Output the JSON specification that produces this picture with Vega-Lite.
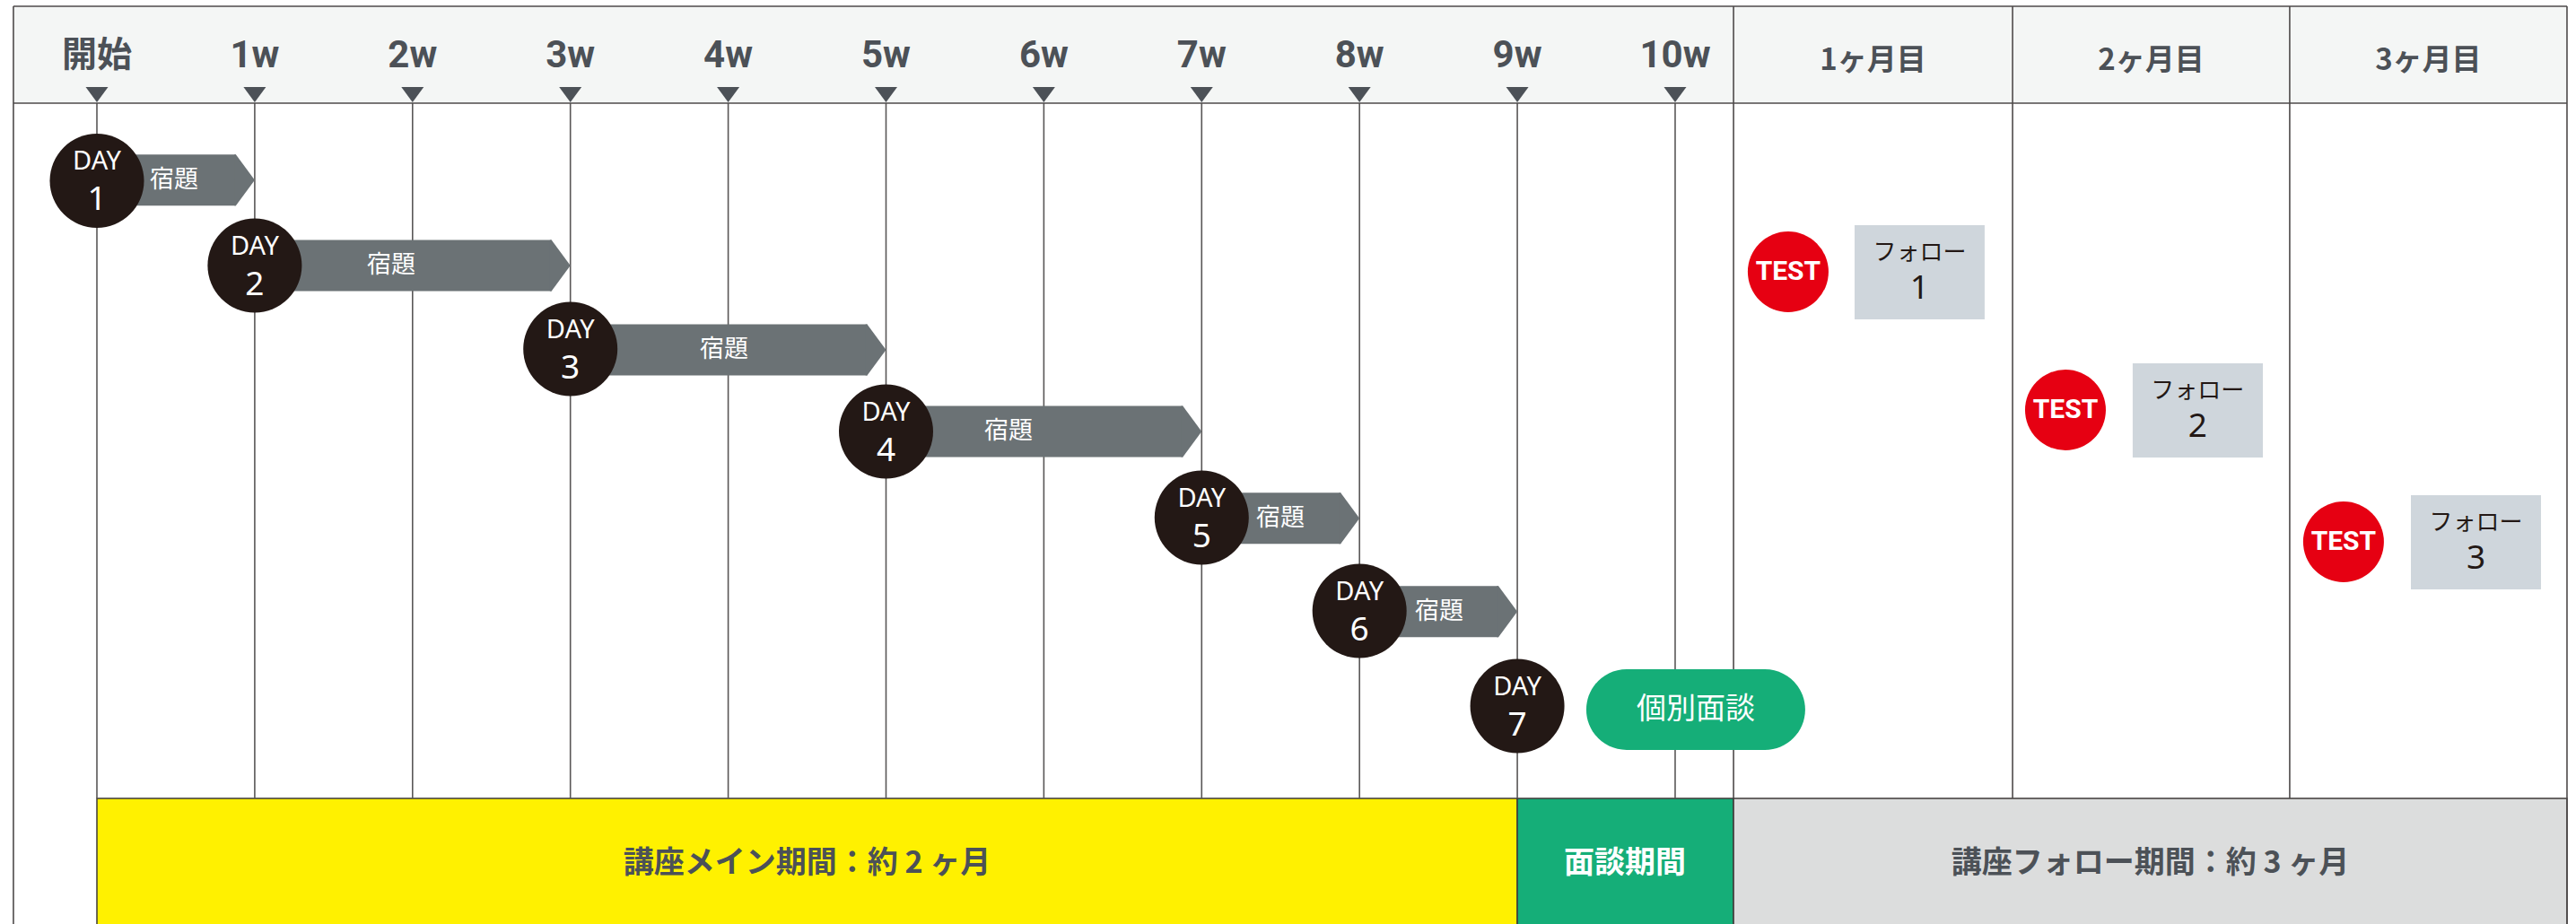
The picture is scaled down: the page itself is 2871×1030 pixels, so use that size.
{
  "$schema": "https://vega.github.io/schema/vega-lite/v6.json",
  "width": 2871,
  "height": 1030,
  "padding": 0,
  "autosize": {"type": "none"},
  "background": "#ffffff",
  "config": {"view": {"stroke": null}},
  "datasets": {
    "hdr": [{"x": -0.529, "x2": 15.651, "y": 0.68, "y2": 11.165}],
    "bands": [
      {"label": "講座メイン期間：約 2 ヶ月", "x": 0, "x2": 9, "xc": 4.5, "y": 86.408, "y2": 101, "c": "main"},
      {"label": "面談期間", "x": 9, "x2": 10.37, "xc": 9.682, "y": 86.408, "y2": 101, "c": "interview"},
      {"label": "講座フォロー期間：約 3 ヶ月", "x": 10.37, "x2": 15.651, "xc": 13.01, "y": 86.408, "y2": 101, "c": "follow"}
    ],
    "weeks": [
      {"x": 0, "label": "開始"}, {"x": 1, "label": "1w"}, {"x": 2, "label": "2w"}, {"x": 3, "label": "3w"},
      {"x": 4, "label": "4w"}, {"x": 5, "label": "5w"}, {"x": 6, "label": "6w"}, {"x": 7, "label": "7w"},
      {"x": 8, "label": "8w"}, {"x": 9, "label": "9w"}, {"x": 10, "label": "10w"}
    ],
    "vlines": [
      {"x": -0.529, "y": 0.68, "y2": 101},
      {"x": 10.37, "y": 0.68, "y2": 86.408},
      {"x": 12.138, "y": 0.68, "y2": 86.408},
      {"x": 13.894, "y": 0.68, "y2": 86.408},
      {"x": 15.651, "y": 0.68, "y2": 101}
    ],
    "hlines": [
      {"x": -0.529, "x2": 15.651, "y": 0.68},
      {"x": -0.529, "x2": 15.651, "y": 11.165}
    ],
    "months": [
      {"x": 11.254, "label": "1ヶ月目"},
      {"x": 13.016, "label": "2ヶ月目"},
      {"x": 14.772, "label": "3ヶ月目"}
    ],
    "hw": [
      {"x": 0, "x2": 1, "y": 19.5, "tx": 0.489},
      {"x": 1, "x2": 3, "y": 28.738, "tx": 1.865},
      {"x": 3, "x2": 5, "y": 37.864, "tx": 3.974},
      {"x": 5, "x2": 7, "y": 46.699, "tx": 5.776},
      {"x": 7, "x2": 8, "y": 56.1, "tx": 7.499},
      {"x": 8, "x2": 9, "y": 66.2, "tx": 8.505}
    ],
    "days": [
      {"day": "1", "x": 0, "y": 19.563},
      {"day": "2", "x": 1, "y": 28.738},
      {"day": "3", "x": 3, "y": 37.767},
      {"day": "4", "x": 5, "y": 46.699},
      {"day": "5", "x": 7, "y": 56.019},
      {"day": "6", "x": 8, "y": 66.117},
      {"day": "7", "x": 9, "y": 76.408}
    ],
    "pill": [{"label": "個別面談", "x": 9.437, "x2": 10.824, "xc": 10.131, "y": 72.427, "y2": 81.165, "yc": 76.796}],
    "tests": [
      {"x": 10.716, "y": 29.417},
      {"x": 12.473, "y": 44.369},
      {"x": 14.235, "y": 58.641}
    ],
    "follow": [
      {"n": "1", "x": 11.137, "x2": 11.961, "xc": 11.549, "y": 24.369, "y2": 34.563, "yc": 29.466},
      {"n": "2", "x": 12.899, "x2": 13.724, "xc": 13.311, "y": 39.32, "y2": 49.515, "yc": 44.417},
      {"n": "3", "x": 14.662, "x2": 15.486, "xc": 15.074, "y": 53.592, "y2": 63.786, "yc": 58.689}
    ]
  },
  "layer": [
    {
      "data": {"name": "hdr"},
      "mark": {"type": "rect", "fill": "#f4f6f5"},
      "encoding": {
        "x": {"field": "x", "type": "quantitative", "scale": {"domain": [-0.614, 15.708], "nice": false, "zero": false}, "axis": null},
        "x2": {"field": "x2"},
        "y": {"field": "y", "type": "quantitative", "scale": {"domain": [0, 100], "nice": false, "zero": false, "reverse": true}, "axis": null},
        "y2": {"field": "y2"}
      }
    },
    {
      "data": {"name": "bands"},
      "mark": {"type": "rect", "stroke": "#3e3a39", "strokeWidth": 1.5},
      "encoding": {
        "x": {"field": "x", "type": "quantitative", "scale": {"domain": [-0.614, 15.708], "nice": false, "zero": false}, "axis": null},
        "x2": {"field": "x2"},
        "y": {"field": "y", "type": "quantitative", "scale": {"domain": [0, 100], "nice": false, "zero": false, "reverse": true}, "axis": null},
        "y2": {"field": "y2"},
        "fill": {"field": "c", "type": "nominal", "scale": {"domain": ["main", "interview", "follow"], "range": ["#fff100", "#15ae78", "#dcdddd"]}, "legend": null}
      }
    },
    {
      "data": {"name": "weeks"},
      "mark": {"type": "rule", "color": "#595757", "strokeWidth": 1.6},
      "encoding": {
        "x": {"field": "x", "type": "quantitative", "scale": {"domain": [-0.614, 15.708], "nice": false, "zero": false}, "axis": null},
        "y": {"datum": 11.165, "type": "quantitative", "scale": {"domain": [0, 100], "nice": false, "zero": false, "reverse": true}, "axis": null},
        "y2": {"datum": 86.408}
      }
    },
    {
      "data": {"name": "vlines"},
      "mark": {"type": "rule", "color": "#4e4a4a", "strokeWidth": 1.6},
      "encoding": {
        "x": {"field": "x", "type": "quantitative", "scale": {"domain": [-0.614, 15.708], "nice": false, "zero": false}, "axis": null},
        "y": {"field": "y", "type": "quantitative", "scale": {"domain": [0, 100], "nice": false, "zero": false, "reverse": true}, "axis": null},
        "y2": {"field": "y2"}
      }
    },
    {
      "data": {"name": "hlines"},
      "mark": {"type": "rule", "color": "#4e4a4a", "strokeWidth": 1.6},
      "encoding": {
        "x": {"field": "x", "type": "quantitative", "scale": {"domain": [-0.614, 15.708], "nice": false, "zero": false}, "axis": null},
        "x2": {"field": "x2"},
        "y": {"field": "y", "type": "quantitative", "scale": {"domain": [0, 100], "nice": false, "zero": false, "reverse": true}, "axis": null}
      }
    },
    {
      "data": {"name": "weeks"},
      "mark": {"type": "point", "shape": "M-1,-0.68L1,-0.68L0,0.68Z", "size": 625, "filled": true, "fill": "#4c5157", "opacity": 1, "strokeWidth": 0},
      "encoding": {
        "x": {"field": "x", "type": "quantitative", "scale": {"domain": [-0.614, 15.708], "nice": false, "zero": false}, "axis": null},
        "y": {"datum": 10.243, "type": "quantitative", "scale": {"domain": [0, 100], "nice": false, "zero": false, "reverse": true}, "axis": null}
      }
    },
    {
      "data": {"name": "weeks"},
      "transform": [{"filter": "datum.x > 0"}],
      "mark": {"type": "text", "font": "Roboto", "fontWeight": "bold", "fontSize": 42, "fill": "#4c5157", "align": "center", "baseline": "middle"},
      "encoding": {
        "x": {"field": "x", "type": "quantitative", "scale": {"domain": [-0.614, 15.708], "nice": false, "zero": false}, "axis": null},
        "y": {"datum": 6.019, "type": "quantitative", "scale": {"domain": [0, 100], "nice": false, "zero": false, "reverse": true}, "axis": null},
        "text": {"field": "label"}
      }
    },
    {
      "data": {"name": "weeks"},
      "transform": [{"filter": "datum.x == 0"}],
      "mark": {"type": "text", "font": "Noto Sans CJK JP", "fontWeight": "bold", "fontSize": 39, "fill": "#4c5157", "align": "center", "baseline": "middle"},
      "encoding": {
        "x": {"field": "x", "type": "quantitative", "scale": {"domain": [-0.614, 15.708], "nice": false, "zero": false}, "axis": null},
        "y": {"datum": 6.019, "type": "quantitative", "scale": {"domain": [0, 100], "nice": false, "zero": false, "reverse": true}, "axis": null},
        "text": {"field": "label"}
      }
    },
    {
      "data": {"name": "months"},
      "mark": {"type": "text", "font": "Noto Sans CJK JP", "fontWeight": "bold", "fontSize": 33, "fill": "#4c5157", "align": "center", "baseline": "middle"},
      "encoding": {
        "x": {"field": "x", "type": "quantitative", "scale": {"domain": [-0.614, 15.708], "nice": false, "zero": false}, "axis": null},
        "y": {"datum": 6.6, "type": "quantitative", "scale": {"domain": [0, 100], "nice": false, "zero": false, "reverse": true}, "axis": null},
        "text": {"field": "label"}
      }
    },
    {
      "data": {"name": "hw"},
      "mark": {"type": "rect", "fill": "#6b7275", "x2Offset": -21, "yOffset": -28.5, "y2Offset": 28.5},
      "encoding": {
        "x": {"field": "x", "type": "quantitative", "scale": {"domain": [-0.614, 15.708], "nice": false, "zero": false}, "axis": null},
        "x2": {"field": "x2"},
        "y": {"field": "y", "type": "quantitative", "scale": {"domain": [0, 100], "nice": false, "zero": false, "reverse": true}, "axis": null},
        "y2": {"field": "y"}
      }
    },
    {
      "data": {"name": "hw"},
      "mark": {"type": "point", "shape": "M0,0L-0.737,-1L-0.8,-1L-0.8,1L-0.737,1Z", "size": 3249, "filled": true, "fill": "#6b7275", "opacity": 1, "strokeWidth": 0},
      "encoding": {
        "x": {"field": "x2", "type": "quantitative", "scale": {"domain": [-0.614, 15.708], "nice": false, "zero": false}, "axis": null},
        "y": {"field": "y", "type": "quantitative", "scale": {"domain": [0, 100], "nice": false, "zero": false, "reverse": true}, "axis": null}
      }
    },
    {
      "data": {"name": "days"},
      "mark": {"type": "point", "shape": "circle", "size": 11025, "filled": true, "fill": "#231815", "opacity": 1, "strokeWidth": 0},
      "encoding": {
        "x": {"field": "x", "type": "quantitative", "scale": {"domain": [-0.614, 15.708], "nice": false, "zero": false}, "axis": null},
        "y": {"field": "y", "type": "quantitative", "scale": {"domain": [0, 100], "nice": false, "zero": false, "reverse": true}, "axis": null}
      }
    },
    {
      "data": {"name": "days"},
      "mark": {"type": "text", "font": "Noto Sans", "fontSize": 29, "fill": "#ffffff", "align": "center", "baseline": "middle", "dy": -21},
      "encoding": {
        "x": {"field": "x", "type": "quantitative", "scale": {"domain": [-0.614, 15.708], "nice": false, "zero": false}, "axis": null},
        "y": {"field": "y", "type": "quantitative", "scale": {"domain": [0, 100], "nice": false, "zero": false, "reverse": true}, "axis": null},
        "text": {"value": "DAY"}
      }
    },
    {
      "data": {"name": "days"},
      "mark": {"type": "text", "font": "Noto Sans", "fontSize": 37, "fill": "#ffffff", "align": "center", "baseline": "middle", "dy": 22},
      "encoding": {
        "x": {"field": "x", "type": "quantitative", "scale": {"domain": [-0.614, 15.708], "nice": false, "zero": false}, "axis": null},
        "y": {"field": "y", "type": "quantitative", "scale": {"domain": [0, 100], "nice": false, "zero": false, "reverse": true}, "axis": null},
        "text": {"field": "day"}
      }
    },
    {
      "data": {"name": "hw"},
      "mark": {"type": "text", "font": "Noto Sans CJK JP", "fontSize": 27, "fill": "#ffffff", "align": "center", "baseline": "middle"},
      "encoding": {
        "x": {"field": "tx", "type": "quantitative", "scale": {"domain": [-0.614, 15.708], "nice": false, "zero": false}, "axis": null},
        "y": {"field": "y", "type": "quantitative", "scale": {"domain": [0, 100], "nice": false, "zero": false, "reverse": true}, "axis": null},
        "text": {"value": "宿題"}
      }
    },
    {
      "data": {"name": "pill"},
      "mark": {"type": "rect", "fill": "#15ae78", "cornerRadius": 45},
      "encoding": {
        "x": {"field": "x", "type": "quantitative", "scale": {"domain": [-0.614, 15.708], "nice": false, "zero": false}, "axis": null},
        "x2": {"field": "x2"},
        "y": {"field": "y", "type": "quantitative", "scale": {"domain": [0, 100], "nice": false, "zero": false, "reverse": true}, "axis": null},
        "y2": {"field": "y2"}
      }
    },
    {
      "data": {"name": "pill"},
      "mark": {"type": "text", "font": "Noto Sans CJK JP", "fontSize": 33, "fill": "#ffffff", "align": "center", "baseline": "middle"},
      "encoding": {
        "x": {"field": "xc", "type": "quantitative", "scale": {"domain": [-0.614, 15.708], "nice": false, "zero": false}, "axis": null},
        "y": {"field": "yc", "type": "quantitative", "scale": {"domain": [0, 100], "nice": false, "zero": false, "reverse": true}, "axis": null},
        "text": {"field": "label"}
      }
    },
    {
      "data": {"name": "tests"},
      "mark": {"type": "point", "shape": "circle", "size": 8100, "filled": true, "fill": "#e60012", "opacity": 1, "strokeWidth": 0},
      "encoding": {
        "x": {"field": "x", "type": "quantitative", "scale": {"domain": [-0.614, 15.708], "nice": false, "zero": false}, "axis": null},
        "y": {"field": "y", "type": "quantitative", "scale": {"domain": [0, 100], "nice": false, "zero": false, "reverse": true}, "axis": null}
      }
    },
    {
      "data": {"name": "tests"},
      "mark": {"type": "text", "font": "'Liberation Sans Narrow', Roboto", "fontWeight": "bold", "fontSize": 30, "fill": "#ffffff", "align": "center", "baseline": "middle"},
      "encoding": {
        "x": {"field": "x", "type": "quantitative", "scale": {"domain": [-0.614, 15.708], "nice": false, "zero": false}, "axis": null},
        "y": {"field": "y", "type": "quantitative", "scale": {"domain": [0, 100], "nice": false, "zero": false, "reverse": true}, "axis": null},
        "text": {"value": "TEST"}
      }
    },
    {
      "data": {"name": "follow"},
      "mark": {"type": "rect", "fill": "#cfd6dc"},
      "encoding": {
        "x": {"field": "x", "type": "quantitative", "scale": {"domain": [-0.614, 15.708], "nice": false, "zero": false}, "axis": null},
        "x2": {"field": "x2"},
        "y": {"field": "y", "type": "quantitative", "scale": {"domain": [0, 100], "nice": false, "zero": false, "reverse": true}, "axis": null},
        "y2": {"field": "y2"}
      }
    },
    {
      "data": {"name": "follow"},
      "mark": {"type": "text", "font": "Noto Sans CJK JP", "fontSize": 26, "fill": "#231815", "align": "center", "baseline": "middle", "dy": -21},
      "encoding": {
        "x": {"field": "xc", "type": "quantitative", "scale": {"domain": [-0.614, 15.708], "nice": false, "zero": false}, "axis": null},
        "y": {"field": "yc", "type": "quantitative", "scale": {"domain": [0, 100], "nice": false, "zero": false, "reverse": true}, "axis": null},
        "text": {"value": "フォロー"}
      }
    },
    {
      "data": {"name": "follow"},
      "mark": {"type": "text", "font": "Noto Sans", "fontSize": 37, "fill": "#231815", "align": "center", "baseline": "middle", "dy": 19},
      "encoding": {
        "x": {"field": "xc", "type": "quantitative", "scale": {"domain": [-0.614, 15.708], "nice": false, "zero": false}, "axis": null},
        "y": {"field": "yc", "type": "quantitative", "scale": {"domain": [0, 100], "nice": false, "zero": false, "reverse": true}, "axis": null},
        "text": {"field": "n"}
      }
    },
    {
      "data": {"name": "bands"},
      "mark": {"type": "text", "font": "Noto Sans CJK JP", "fontWeight": "bold", "fontSize": 34, "align": "center", "baseline": "middle"},
      "encoding": {
        "x": {"field": "xc", "type": "quantitative", "scale": {"domain": [-0.614, 15.708], "nice": false, "zero": false}, "axis": null},
        "y": {"datum": 93.5, "type": "quantitative", "scale": {"domain": [0, 100], "nice": false, "zero": false, "reverse": true}, "axis": null},
        "text": {"field": "label"},
        "color": {"condition": {"test": "datum.c === 'interview'", "value": "#ffffff"}, "value": "#4c5157"}
      }
    }
  ]
}
